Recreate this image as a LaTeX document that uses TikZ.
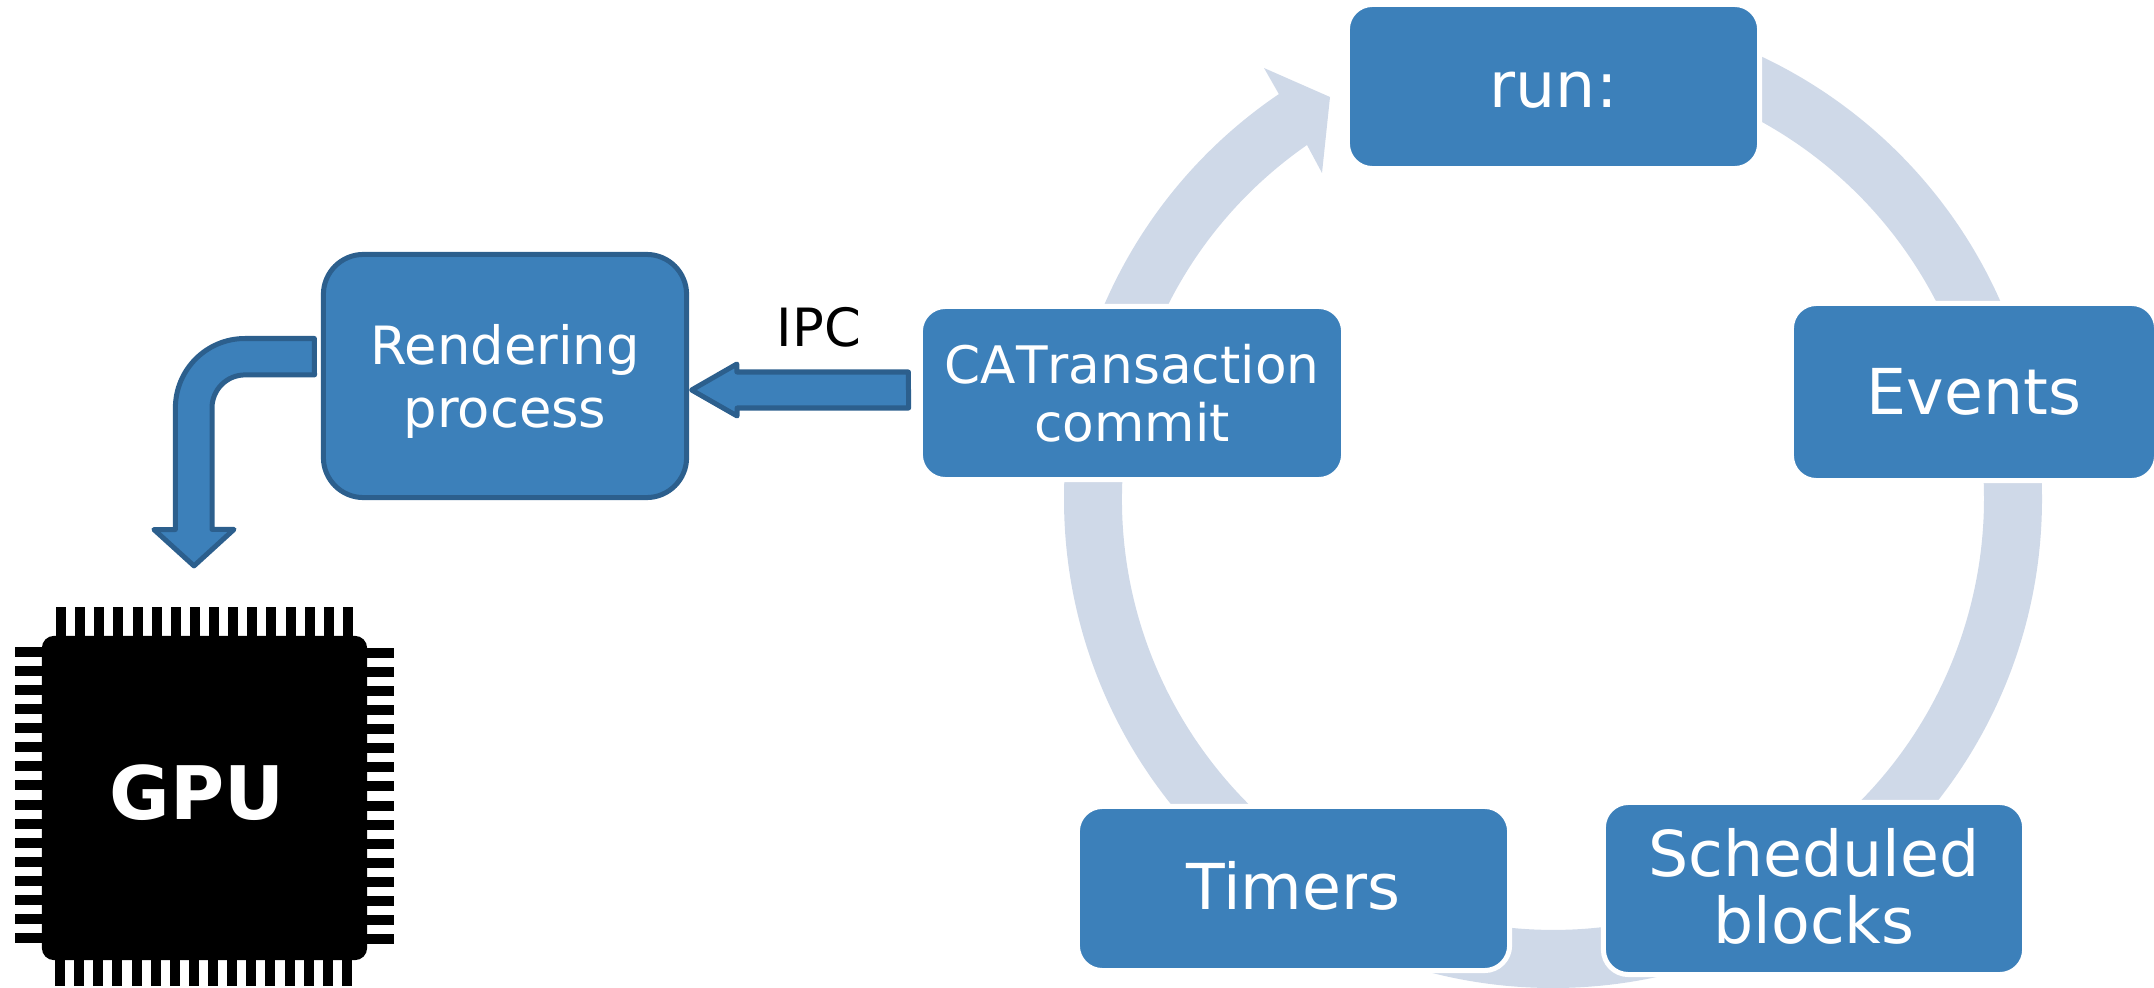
\documentclass[tikz,border=0pt]{standalone}
\usepackage{fontspec}
\setmainfont{DejaVu Sans}
\definecolor{boxfill}{HTML}{3C80BA}
\definecolor{boxline}{HTML}{2C5F8D}
\definecolor{ringfill}{HTML}{CFD9E8}
\tikzset{
	cyclebox/.style={draw=white,line width=0.05cm,fill=boxfill,text=white,rounded corners=0.25cm,inner sep=0pt,outer sep=0pt,align=center},
	bigtext/.style={font=\fontsize{18}{19.2}\selectfont},
	smalltext/.style={font=\fontsize{15}{18}\selectfont},
	blockarrow/.style={draw=boxline,line width=0.05cm,fill=boxfill,line join=round}
}
\begin{document}
\begin{tikzpicture}[x=0.01cm,y=0.01cm]
	\useasboundingbox (0,0) rectangle (2154,987);
	\fill[ringfill] (1553,977) arc[start angle=90,end angle=-235.9,radius=489] -- (1264,919) -- (1330,890) -- (1322,814) -- (1307,842) arc[start angle=-235.2,end angle=90,radius=431] -- cycle;
	\node[cyclebox,bigtext,text height=12pt,minimum width=4.12cm,minimum height=1.64cm] (run) at (1553.5,900.5) {run:};
	\node[cyclebox,bigtext,minimum width=3.65cm,minimum height=1.77cm] (events) at (1974,595) {Events};
	\node[cyclebox,bigtext,text depth=1.5pt,minimum width=4.21cm,minimum height=1.72cm] (sched) at (1814,98.5) {Scheduled\\blocks};
	\node[cyclebox,bigtext,text depth=1.7pt,minimum width=4.32cm,minimum height=1.64cm] (timers) at (1293.5,98.5) {Timers};
	\node[cyclebox,font=\fontsize{14.7}{16.5}\selectfont\addfontfeatures{Kerning=Off},minimum width=4.23cm,minimum height=1.73cm] (commit) at (1132,594) {CATransaction\\commit};
	\node[draw=boxline,line width=0.05cm,fill=boxfill,text=white,rounded corners=0.4cm,inner sep=0pt,outer sep=0pt,align=center,smalltext,text depth=0pt,minimum width=3.63cm,minimum height=2.43cm] (render) at (505,611) {Rendering\\process};
	\node[smalltext,inner sep=0pt] (ipc) at (819,660) {IPC};
	\foreach \i in {0,...,15} {
		\fill[black] ({56+19.13*\i},345) rectangle ++(10,35);
		\fill[black] ({55+19.13*\i},33) rectangle ++(10,-32);
		\fill[black] (15,{330-19.07*\i}) rectangle ++(35,10);
		\fill[black] (394,{329-19.07*\i}) rectangle ++(-35,10);
	}
	\node[fill=black,rounded corners=0.12cm,inner sep=0pt,outer sep=0pt,minimum width=3.25cm,minimum height=3.24cm] (chip) at (204.5,189) {};
	\node[text=white,inner sep=0pt,font=\fontsize{21}{24}\selectfont\bfseries] (gpu) at (197,194) {GPU};
	\draw[blockarrow] ([shift={(-12,21)}]commit.west) -- ++(-171.5,0) -- ++(0,8) -- ([shift={(5,-14)}]render.east) -- ++(45.5,-26) -- ++(0,8) -- ++(171.5,0) -- cycle;
	\draw[blockarrow] ([shift={(-9,37.5)}]render.west) -- ++(-69.5,0) arc[start angle=90,end angle=180,radius=69.5] -- ++(0,-121.5) -- ++(-21.5,0) -- ([shift={(-10.5,70)}]chip.north) -- ++(40,36.5) -- ++(-22,0) -- ++(0,121.5) arc[start angle=180,end angle=90,radius=33] -- ++(69.5,0) -- cycle;
\end{tikzpicture}
\end{document}
